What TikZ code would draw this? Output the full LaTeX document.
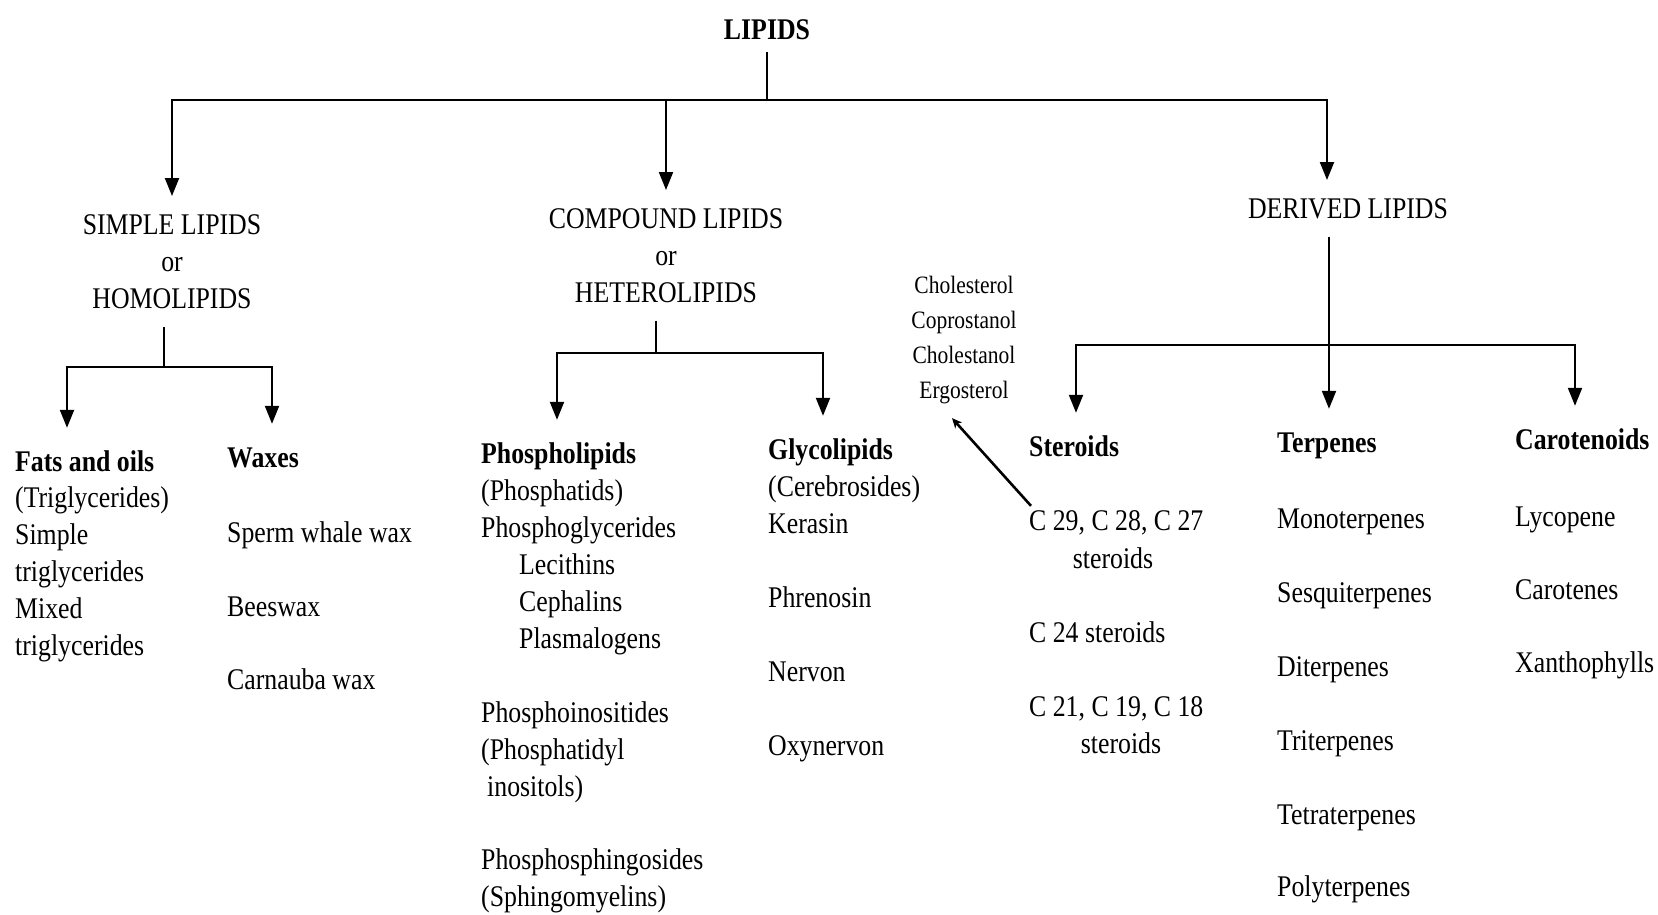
\documentclass[tikz,border=0pt]{standalone}
\usepackage{fontspec}
\setmainfont{Liberation Serif}[FakeStretch=0.86]
\usetikzlibrary{arrows.meta}

\begin{document}
\begin{tikzpicture}[x=1pt,y=-1pt,
	conn/.style={line width=2.1pt},
	arr/.style={conn,-{Triangle[length=18pt,width=14pt]}},
	root/.style={font=\fontsize{30}{37}\selectfont\bfseries,anchor=base,inner ysep=13pt,text depth=0pt},
	grp/.style={font=\fontsize{30}{37}\selectfont,align=center,anchor=north,inner xsep=0pt,inner ysep=18pt},
	hd/.style={font=\fontsize{30}{37}\selectfont\bfseries,anchor=base west,inner xsep=0pt,inner ysep=22pt,text height=21pt,text depth=0pt},
	leaf/.style={font=\fontsize{30}{37}\selectfont,anchor=base west,inner sep=0pt},
	]
	\useasboundingbox (0,0) rectangle (1658,914);
	% top of the tree
	\node[root] (lipids) at (767,39) {LIPIDS};
	\node[grp] (simple) at (172,196) {SIMPLE LIPIDS\\or\\HOMOLIPIDS};
	\node[grp] (compound) at (666,190) {COMPOUND LIPIDS\\or\\HETEROLIPIDS};
	\node[grp] (derived) at (1348,180) {DERIVED LIPIDS};
	\draw[conn] (lipids.south) -- (lipids.south |- 0,100) coordinate (hub);
	\draw[arr] (hub) -| (simple.north);
	\draw[arr] (hub) -| (compound.north);
	\draw[arr] (hub) -| ([xshift=-21pt]derived.north);

	% simple lipids
	\node[hd] (fats) at (15,471) {Fats and oils};
	\foreach \t/\y [count=\i] in {{(Triglycerides)}/507, Simple/544, triglycerides/581, Mixed/618, triglycerides/655}
		\node[leaf] (fats\i) at (15,\y) {\t};
	\node[hd] (waxes) at (227,467) {Waxes};
	\foreach \t/\y [count=\i] in {Sperm whale wax/542, Beeswax/616, Carnauba wax/689}
		\node[leaf] (wax\i) at (227,\y) {\t};
	\draw[conn] ([xshift=-8pt]simple.south) -- ++(0,40) coordinate (sj);
	\draw[arr] (sj) -| (67,0 |- fats.north);
	\draw[arr] (sj) -| (272,0 |- waxes.north);

	% compound lipids
	\node[hd] (phos) at (481,463) {Phospholipids};
	\foreach \t/\x/\y [count=\i] in {{(Phosphatids)}/481/500, Phosphoglycerides/481/537, Lecithins/519/574,
		Cephalins/519/611, Plasmalogens/519/648, Phosphoinositides/481/722, {(Phosphatidyl}/481/759,
		{inositols)}/487/796, Phosphosphingosides/481/869, {(Sphingomyelins)}/481/906}
		\node[leaf] (phos\i) at (\x,\y) {\t};
	\node[hd] (glyco) at (768,459) {Glycolipids};
	\foreach \t/\y [count=\i] in {{(Cerebrosides)}/496, Kerasin/533, Phrenosin/607, Nervon/681, Oxynervon/755}
		\node[leaf] (glyco\i) at (768,\y) {\t};
	\draw[conn] ([xshift=-10pt]compound.south) -- ++(0,32) coordinate (cj);
	\draw[arr] (cj) -| (557,0 |- phos.north);
	\draw[arr] (cj) -| (823,0 |- glyco.north);

	% derived lipids
	\node[hd] (ster) at (1029,456) {Steroids};
	\node[leaf] (ster1) at (1029,530) {C 29, C 28, C 27};
	\node[leaf,anchor=base] (ster2) at (1113,568) {steroids};
	\node[leaf] (ster3) at (1029,642) {C 24 steroids};
	\node[leaf] (ster4) at (1029,716) {C 21, C 19, C 18};
	\node[leaf,anchor=base] (ster5) at (1121,753) {steroids};
	\node[hd] (terp) at (1277,452) {Terpenes};
	\foreach \t/\y [count=\i] in {Monoterpenes/528, Sesquiterpenes/602, Diterpenes/676, Triterpenes/750,
		Tetraterpenes/824, Polyterpenes/896}
		\node[leaf] (terp\i) at (1277,\y) {\t};
	\node[hd] (carot) at (1515,449) {Carotenoids};
	\foreach \t/\y [count=\i] in {Lycopene/526, Carotenes/599, Xanthophylls/672}
		\node[leaf] (carot\i) at (1515,\y) {\t};
	\coordinate (dj) at (1329,345);
	\draw[arr] ([xshift=-19pt]derived.south) -- (1329,0 |- terp.north);
	\draw[arr] (dj) -| (1076,0 |- ster.north);
	\draw[arr] (dj) -| (1575,0 |- carot.north);

	% sterols pointed at from the C 29 line
	\node[font=\fontsize{25}{35}\selectfont,align=center,anchor=north,inner sep=0pt] (chol) at (964,276)
		{Cholesterol\\Coprostanol\\Cholestanol\\Ergosterol};
	\draw[line width=2.6pt,-{Stealth[length=10pt,width=9pt]}] ([xshift=2pt,yshift=4pt]ster1.north west)
		-- ([xshift=-12pt,yshift=-14pt]chol.south);
\end{tikzpicture}
\end{document}
